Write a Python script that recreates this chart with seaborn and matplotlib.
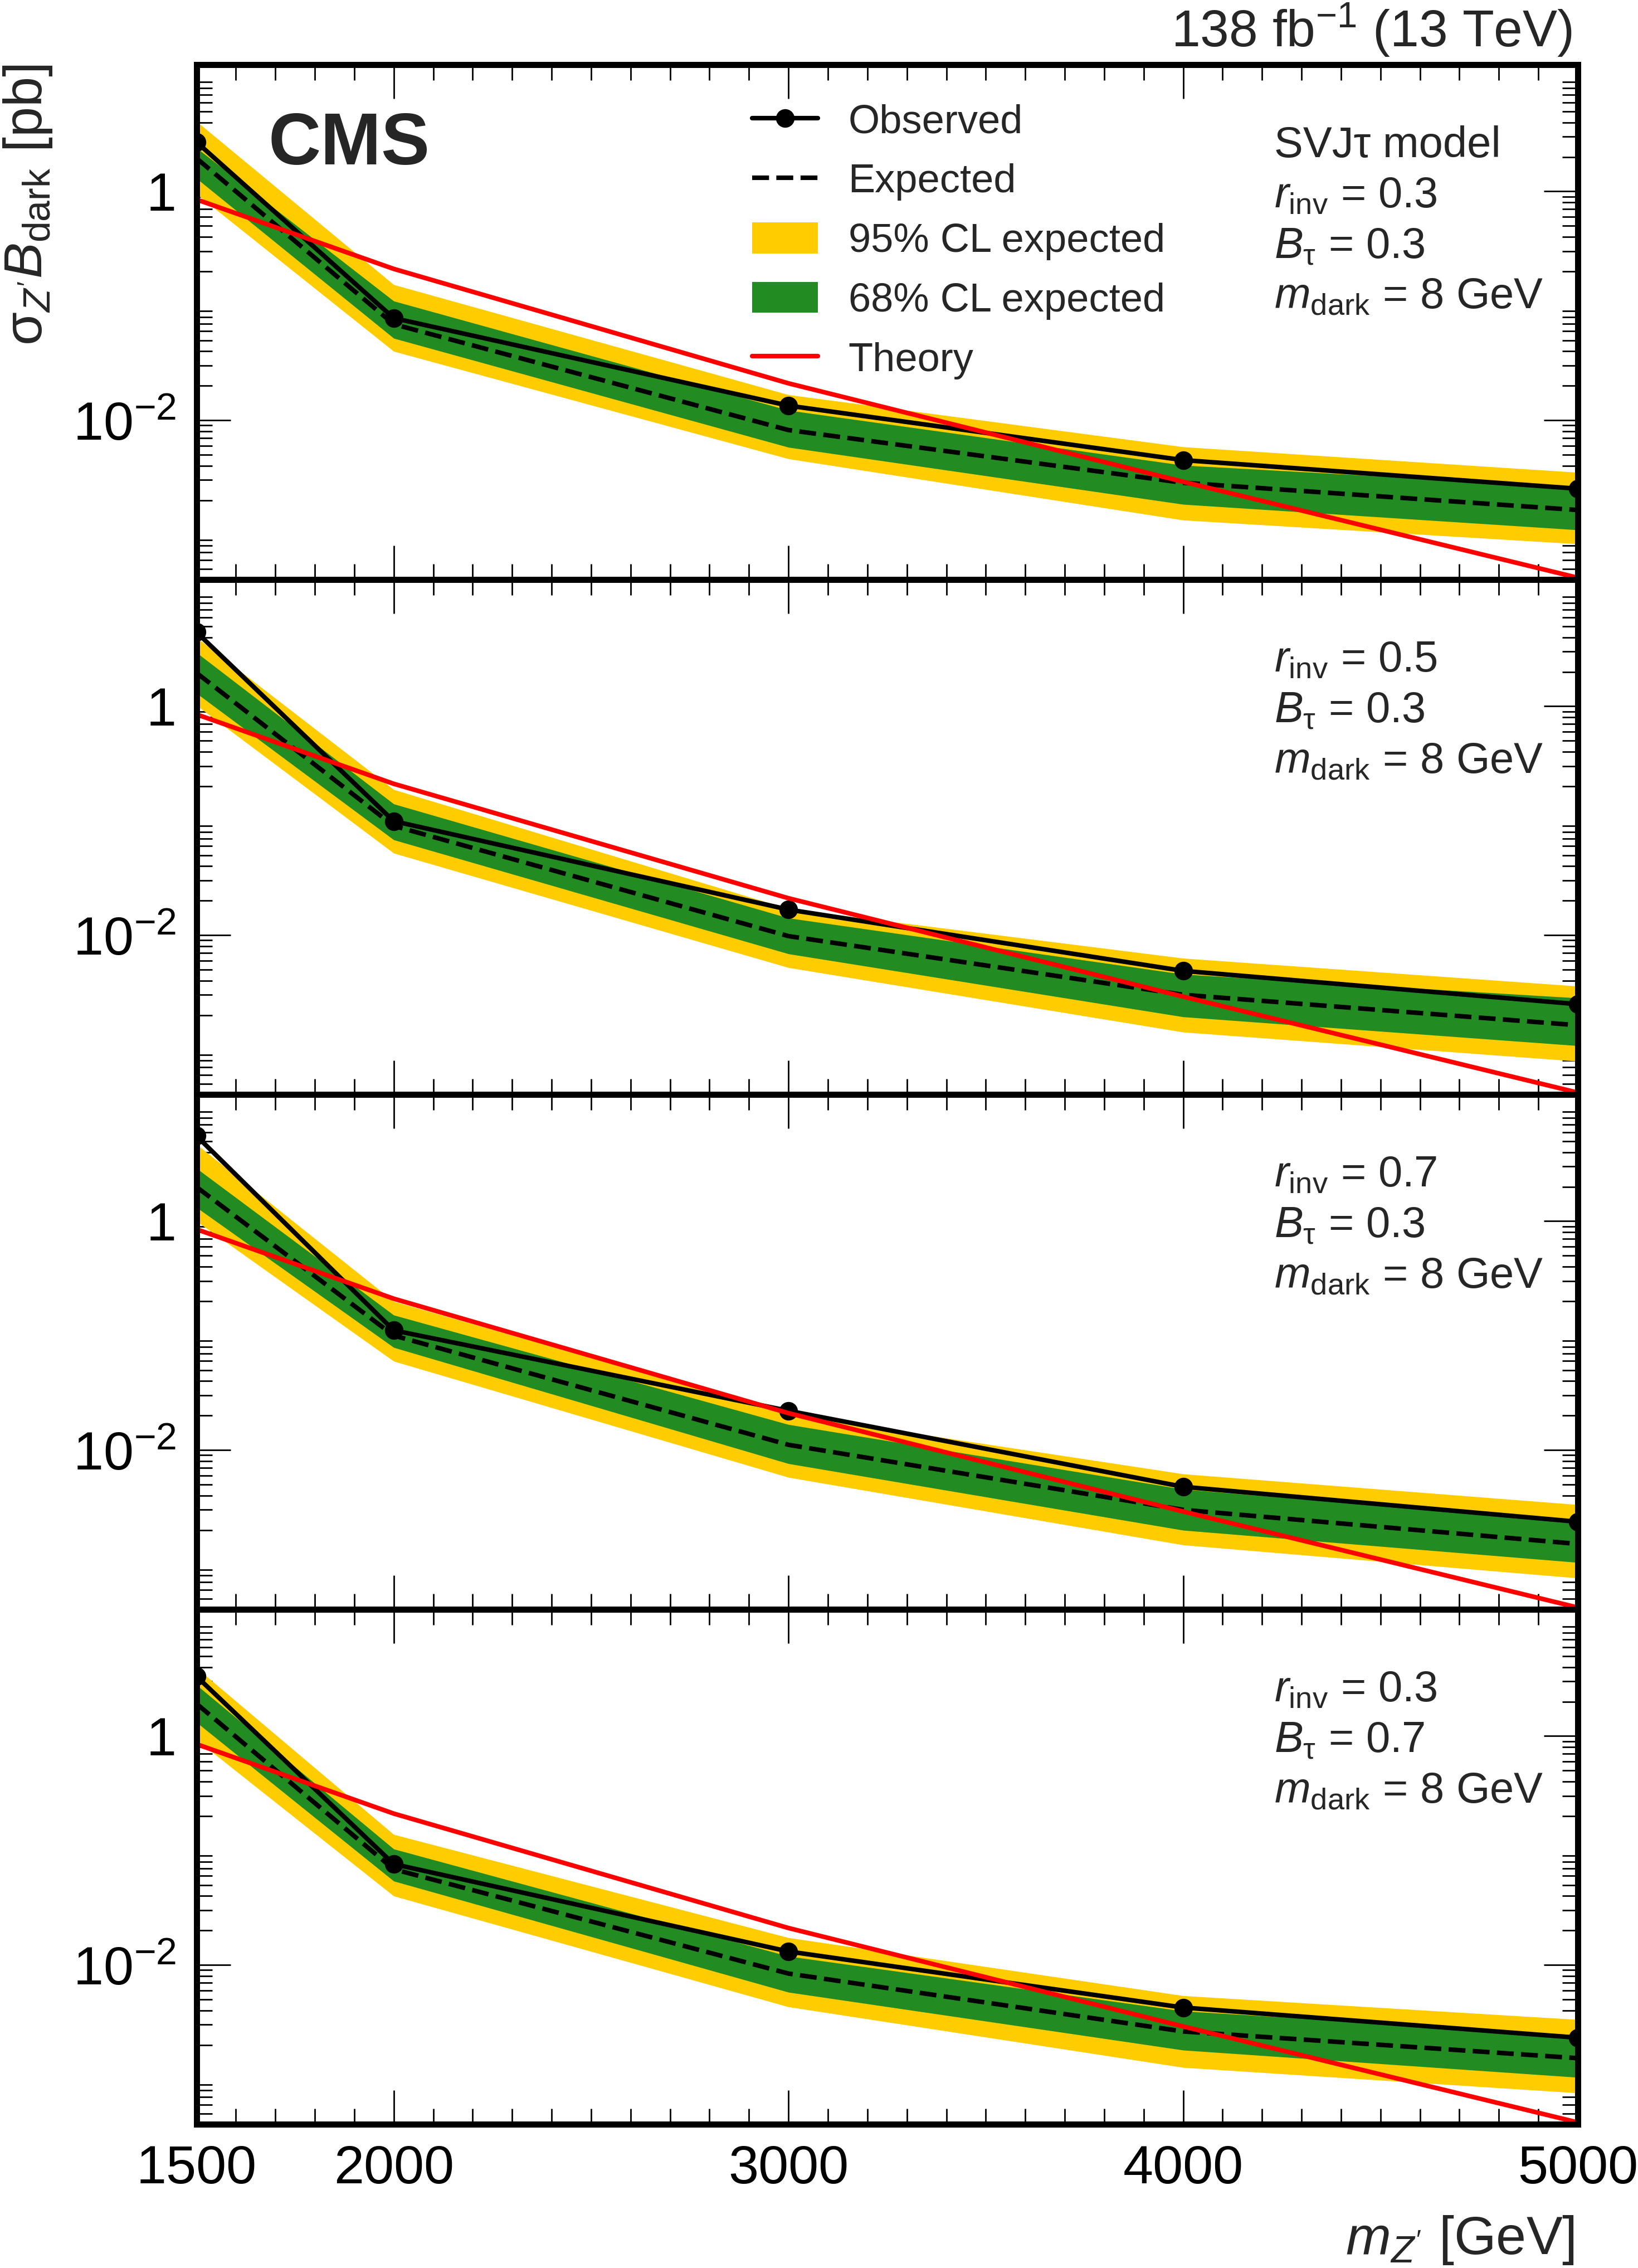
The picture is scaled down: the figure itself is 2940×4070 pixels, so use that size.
import matplotlib
matplotlib.use('Agg')
import matplotlib.pyplot as plt
import matplotlib.ticker as mticker
from matplotlib.lines import Line2D
from matplotlib.patches import Patch
import seaborn as sns

# Z' mass points (GeV)
MASSES = [1500, 2000, 3000, 4000, 5000]

# theory cross section, same in every panel [pb]
THEORY = [0.85, 0.21, 0.021, 0.0029, 0.00042]

# one row per panel: (r_inv, B_tau) = (0.3,0.3), (0.5,0.3), (0.7,0.3), (0.3,0.7)
OBSERVED = [
    [2.7, 0.078, 0.0134, 0.00448, 0.00252],
    [4.45, 0.099, 0.0167, 0.00487, 0.00249],
    [5.57, 0.111, 0.022, 0.00477, 0.00236],
    [3.33, 0.076, 0.0131, 0.00424, 0.00231],
]
EXPECTED = [
    [1.95, 0.069, 0.0082, 0.00284, 0.00164],
    [1.96, 0.090, 0.0098, 0.00301, 0.00163],
    [1.99, 0.100, 0.0111, 0.00300, 0.00151],
    [1.92, 0.0685, 0.0084, 0.00262, 0.00153],
]
GREEN_LO = [
    [1.30, 0.052, 0.0058, 0.00184, 0.00110],
    [1.30, 0.068, 0.00686, 0.00193, 0.00108],
    [1.32, 0.0787, 0.0076, 0.00199, 0.00104],
    [1.32, 0.054, 0.00577, 0.00180, 0.00104],
]
GREEN_HI = [
    [2.4, 0.110, 0.0122, 0.00404, 0.0026],
    [2.95, 0.140, 0.0141, 0.00455, 0.00282],
    [2.9, 0.151, 0.0167, 0.00454, 0.00236],
    [2.8, 0.103, 0.0119, 0.00395, 0.00244],
]
YELLOW_LO = [
    [0.95, 0.040, 0.0046, 0.00134, 0.00083],
    [1.02, 0.052, 0.0052, 0.00142, 0.00079],
    [1.00, 0.0597, 0.00577, 0.00148, 0.00076],
    [0.93, 0.040, 0.0043, 0.00127, 0.00076],
]
YELLOW_HI = [
    [4.1, 0.153, 0.0167, 0.00585, 0.0035],
    [4.0, 0.187, 0.017, 0.00628, 0.00358],
    [4.7, 0.199, 0.0206, 0.00618, 0.00333],
    [3.95, 0.138, 0.0173, 0.00538, 0.00333],
]

PANEL_TEXT = [
    ['SVJτ model', r'$r_{\mathrm{inv}}$ = 0.3', r'$B_{\mathrm{\tau}}$ = 0.3', r'$m_{\mathrm{dark}}$ = 8 GeV'],
    [r'$r_{\mathrm{inv}}$ = 0.5', r'$B_{\mathrm{\tau}}$ = 0.3', r'$m_{\mathrm{dark}}$ = 8 GeV'],
    [r'$r_{\mathrm{inv}}$ = 0.7', r'$B_{\mathrm{\tau}}$ = 0.3', r'$m_{\mathrm{dark}}$ = 8 GeV'],
    [r'$r_{\mathrm{inv}}$ = 0.3', r'$B_{\mathrm{\tau}}$ = 0.7', r'$m_{\mathrm{dark}}$ = 8 GeV'],
]

X_TICKS = [1500, 2000, 3000, 4000, 5000]
Y_TICKS = [1e-2, 1.0]
Y_TICK_LABELS = [r'$10^{-2}$', '1']

YELLOW = '#FFCC00'
GREEN = '#228B22'
RED = '#FF0000'
LW = 5.9
DASH = (0, (3.7, 1.6))

sns.set_theme(style='ticks')
plt.rcParams['font.family'] = ['Liberation Sans', 'DejaVu Sans']
plt.rcParams['mathtext.fontset'] = 'custom'
plt.rcParams['mathtext.rm'] = 'Liberation Sans'
plt.rcParams['mathtext.it'] = 'Liberation Sans:italic'
plt.rcParams['mathtext.bf'] = 'Liberation Sans:bold'

W, H = 2940, 4070
fig, axes = plt.subplots(4, 1, figsize=(W / 100, H / 100), dpi=100, sharex=True)
fig.subplots_adjust(left=352.5 / W, right=2832 / W, bottom=1 - 3812 / H, top=1 - 116 / H, hspace=0)

minor_y = [k * 10.0 ** e for e in range(-5, 2) for k in range(2, 10)]
row_off = [166, 256, 347, 437]

for i, ax in enumerate(axes):
    ax.fill_between(MASSES, YELLOW_LO[i], YELLOW_HI[i], color=YELLOW, lw=0, zorder=1)
    ax.fill_between(MASSES, GREEN_LO[i], GREEN_HI[i], color=GREEN, lw=0, zorder=2)
    sns.lineplot(x=MASSES, y=EXPECTED[i], ax=ax, color='black', lw=LW,
                 linestyle=DASH, zorder=3)
    sns.lineplot(x=MASSES, y=OBSERVED[i], ax=ax, color='black', lw=LW, marker='o',
                 markersize=24, markeredgewidth=0, zorder=4)
    sns.lineplot(x=MASSES, y=THEORY, ax=ax, color=RED, lw=LW, zorder=5)

    ax.set_yscale('log')
    ax.set_xlim(1500, 5000)
    ax.set_ylim(4.05e-4, 12.8)
    ax.set_xlabel('')
    ax.set_ylabel('')

    ax.xaxis.set_major_locator(mticker.FixedLocator(X_TICKS))
    ax.xaxis.set_minor_locator(mticker.MultipleLocator(100))
    ax.xaxis.set_major_formatter(mticker.FixedFormatter([str(v) for v in X_TICKS]))
    ax.yaxis.set_major_locator(mticker.FixedLocator(Y_TICKS))
    ax.yaxis.set_major_formatter(mticker.FixedFormatter(Y_TICK_LABELS))
    ax.yaxis.set_minor_locator(mticker.FixedLocator(minor_y))
    ax.yaxis.set_minor_formatter(mticker.NullFormatter())
    ax.tick_params(which='both', direction='in', top=True, right=True,
                   labelsize=70, pad=26, colors='black')
    ax.tick_params(which='major', length=44, width=2.0)
    ax.tick_params(which='minor', length=20, width=2.0)
    for sp in ax.spines.values():
        sp.set_linewidth(7.9)
        sp.set_color('black')
        sp.set_zorder(10)

    for j, txt in enumerate(PANEL_TEXT[i]):
        ax.text(0.78, 1 - row_off[j] / 923, txt, transform=ax.transAxes,
                fontsize=56, ha='left', va='baseline')

handles = [
    Line2D([], [], color='black', lw=LW, marker='o', markersize=24, markeredgewidth=0),
    Line2D([], [], color='black', lw=LW, linestyle=DASH),
    Patch(facecolor=YELLOW, edgecolor='none'),
    Patch(facecolor=GREEN, edgecolor='none'),
    Line2D([], [], color=RED, lw=LW),
]
labels = ['Observed', 'Expected', '95% CL expected', '68% CL expected', 'Theory']
axes[0].legend(handles, labels, loc='upper left', bbox_to_anchor=(1350 / W, 1 - 186 / H),
               bbox_transform=fig.transFigure, frameon=False, fontsize=52,
               handlelength=1.63, handleheight=0.8, handletextpad=0.76,
               labelspacing=0.54, borderpad=0, borderaxespad=0)

fig.text(482 / W, 1 - 295 / H, 'CMS', fontsize=94, fontweight='bold', ha='left', va='baseline')
fig.text(2822 / W, 1 - 84 / H, r'138 fb$^{-1}$ (13 TeV)', fontsize=67, ha='right', va='baseline')
fig.text(0.017, 1 - 116 / H, r'$\mathrm{\sigma}_{Z^{\prime}}B_{\mathrm{dark}}$ [pb]',
         fontsize=70, rotation=90, ha='center', va='top')
fig.text(2826 / W, 1 - 4045 / H, r'$m_{Z^{\prime}}$ [GeV]', fontsize=70, ha='right', va='baseline')

fig.savefig('out.png', dpi=100)
